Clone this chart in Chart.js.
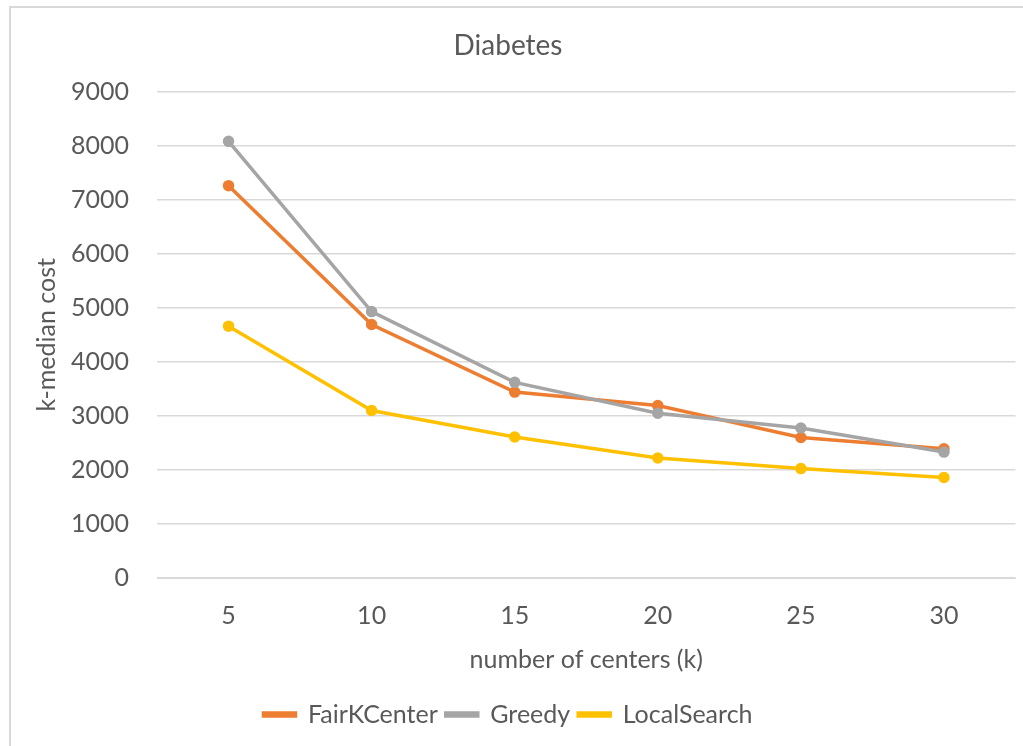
<!DOCTYPE html>
<html>
<head>
<meta charset="utf-8">
<script src="https://cdn.jsdelivr.net/npm/chart.js@4.4.0/dist/chart.umd.min.js"></script>
<style>
  body { margin: 0; background: #fff; }
  #wrap { position: relative; width: 1023px; height: 746px; overflow: hidden; }
  #frame { position: absolute; left: 9px; top: 6px; width: 1100px; height: 800px;
           border-left: 2px solid #d9d9d9; border-top: 2px solid #d9d9d9; }
  canvas { position: absolute; left: 0; top: 0; }
</style>
</head>
<body>
<div id="wrap">
  <div id="frame"></div>
  <canvas id="myChart" width="1023" height="746"></canvas>
</div>
<script>
// data
const centers = ["5", "10", "15", "20", "25", "30"];
const fairKCenter = [7260, 4690, 3440, 3190, 2600, 2390];
const greedy = [8080, 4930, 3620, 3050, 2775, 2330];
const localSearch = [4660, 3100, 2610, 2220, 2025, 1860];

const textColor = "#595959";
const fontName = "Lato, 'Open Sans', sans-serif";

function line(label, data, color, order) {
  return {
    label: label,
    data: data,
    borderColor: color,
    backgroundColor: color,
    pointBackgroundColor: color,
    pointBorderColor: color,
    borderWidth: 3.5,
    pointRadius: 4,
    pointHoverRadius: 4,
    tension: 0,
    order: order
  };
}

const config = {
  type: "line",
  data: {
    labels: centers,
    datasets: [
      line("FairKCenter", fairKCenter, "#ED7D31", 3),
      line("Greedy", greedy, "#A5A5A5", 2),
      line("LocalSearch", localSearch, "#FFC000", 1)
    ]
  },
  options: {
    responsive: false,
    animation: false,
    layout: { padding: { left: 0, right: 7, top: 0, bottom: 9 } },
    plugins: {
      title: {
        display: true,
        text: "Diabetes",
        color: textColor,
        font: { family: fontName, size: 28, weight: "normal" },
        padding: { top: 29, bottom: 29 }
      },
      legend: {
        position: "bottom",
        labels: {
          color: textColor,
          font: { family: fontName, size: 25 },
          boxWidth: 32,
          boxHeight: 3,
          padding: 8,
          sort: (a, b) => a.datasetIndex - b.datasetIndex
        }
      },
      tooltip: { enabled: false }
    },
    scales: {
      x: {
        offset: true,
        grid: { display: false, drawTicks: false },
        border: { display: true, color: "#d9d9d9", width: 1 },
        ticks: { color: textColor, font: { family: fontName, size: 25 }, padding: 23 },
        title: {
          display: true,
          text: "number of centers (k)",
          color: textColor,
          font: { family: fontName, size: 25 },
          padding: { top: 0, bottom: 19 }
        },
        afterFit: (scale) => { scale.height = 116; }
      },
      y: {
        min: 0,
        max: 9000,
        grid: { color: "#d9d9d9", lineWidth: 1.5, drawTicks: false },
        border: { display: false },
        ticks: {
          stepSize: 1000,
          color: textColor,
          font: { family: fontName, size: 25 },
          padding: 28,
          callback: (value) => String(value)
        },
        title: {
          display: true,
          text: "k-median cost",
          color: textColor,
          font: { family: fontName, size: 25 },
          padding: { top: 32, bottom: 0 }
        },
        afterFit: (scale) => { scale.width = 157; }
      }
    }
  }
};

const myChart = new Chart(document.getElementById("myChart"), config);
</script>
</body>
</html>
